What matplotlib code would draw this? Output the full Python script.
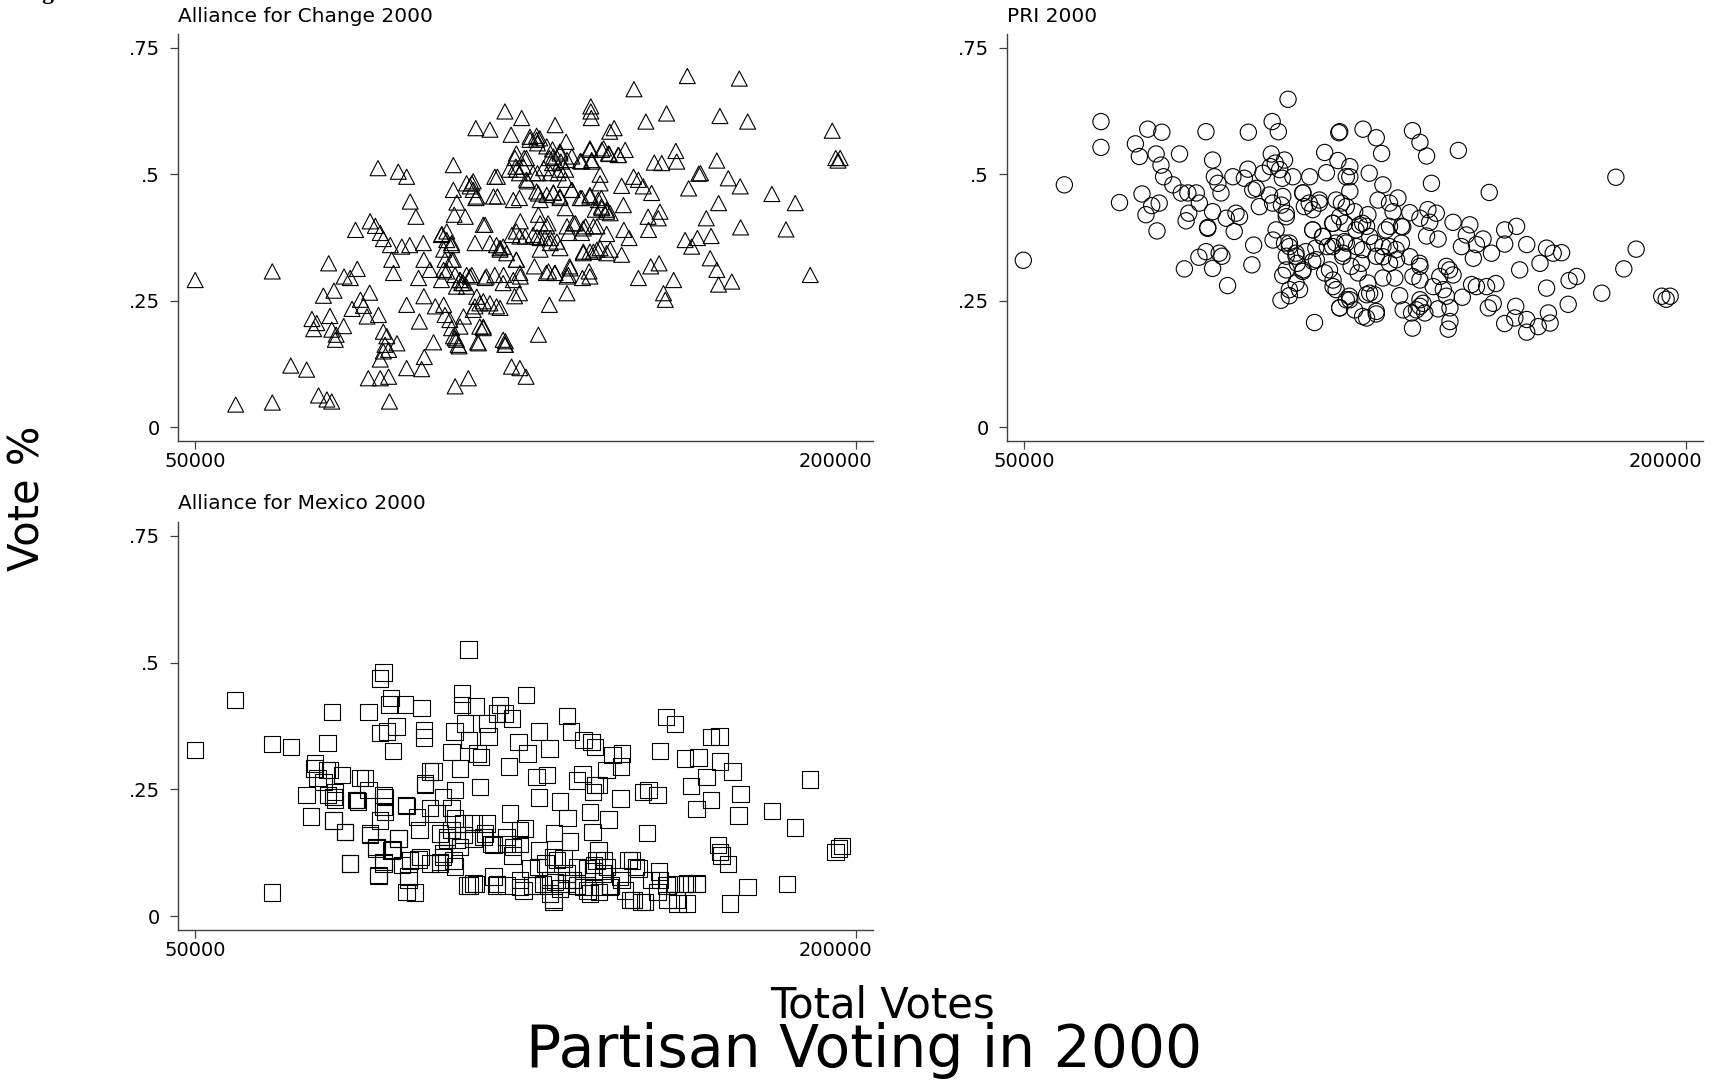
import numpy as np
import matplotlib
matplotlib.use("Agg")
import matplotlib.pyplot as plt
import matplotlib.transforms as mtransforms
from matplotlib.path import Path

plt.rcParams['font.family'] = ['DejaVu Sans']

# total votes (thousands), vote share
afc_pts = [
    (50.0, .291), (67.5, .308), (59.2, .045), (67.5, .049), (71.7, .122), (75.3, .114), (78.0, .063), (79.9, .055),
    (81.0, .051), (80.3, .324), (79.1, .26), (81.5, .27), (76.5, .214), (77.6, .206), (76.9, .194), (80.6, .22),
    (81.0, .193), (82.0, .183), (83.7, .20), (81.8, .173), (85.6, .234), (87.5, .252), (88.2, .24), (89.0, .219),
    (89.6, .266), (83.8, .298), (85.2, .295), (86.8, .313), (86.4, .39), (89.7, .407), (90.9, .398), (92.0, .384),
    (92.7, .372), (94.3, .36), (91.5, .512), (96.1, .505), (98.0, .495), (98.8, .446), (100.1, .416), (91.6, .222),
    (92.7, .189), (93.5, .18), (93.1, .163), (92.7, .15), (92.0, .134), (95.8, .166), (93.9, .153), (89.3, .097),
    (92.0, .097), (93.9, .10), (94.1, .051), (94.6, .331), (95.0, .305), (96.9, .357), (98.7, .36), (101.8, .364),
    (101.9, .331), (100.7, .295), (103.3, .311), (98.0, .242), (101.9, .259), (100.9, .209), (98.0, .117), (101.4, .115),
    (102.0, .139), (104.1, .168), (104.5, .239), (106.4, .242), (106.7, .222), (106.0, .382), (107.1, .387), (108.2, .364),
    (106.4, .351), (106.4, .311), (108.2, .331), (109.0, .301), (110.1, .291), (110.5, .285), (111.6, .301), (112.8, .301),
    (107.8, .212), (108.2, .196), (109.0, .176), (109.9, .16), (110.9, .219), (109.0, .081), (112.0, .097), (108.6, .518),
    (109.4, .444), (108.8, .42), (111.3, .416), (112.8, .482), (113.5, .364), (113.5, .239), (114.1, .168), (112.4, .476),
    (113.7, .453), (113.7, .591), (116.9, .588), (115.4, .40), (115.8, .295), (115.4, .249), (115.4, .199), (118.6, .495),
    (118.6, .456),
    (120.3, .624), (124.1, .611), (121.7, .578), (131.7, .597), (139.8, .634), (139.8, .624), (139.9, .611), (149.6, .668),
    (161.7, .694), (173.5, .689), (152.3, .604), (157.0, .62), (169.1, .615), (175.4, .604), (194.6, .586), (195.4, .532),
    (196.4, .532), (195.9, .527), (144.1, .584), (145.1, .591), (126.0, .568), (127.5, .576), (127.7, .561), (134.2, .564),
    (122.9, .541), (124.7, .532), (131.1, .549), (132.8, .541), (139.6, .551), (142.7, .551), (144.0, .540), (146.0, .538),
    (147.6, .548), (159.1, .546), (154.2, .523), (155.9, .522), (159.3, .525), (168.4, .527), (121.3, .509), (122.8, .515),
    (123.6, .502), (125.4, .486), (127.7, .502), (130.4, .532), (131.1, .522), (133.0, .525), (134.1, .509), (132.4, .502),
    (137.7, .525), (140.0, .525), (141.9, .499), (141.9, .482), (149.5, .495), (150.6, .489), (151.7, .476), (153.6, .463),
    (146.8, .477), (164.3, .501), (164.7, .502), (171.0, .492), (173.7, .476), (162.0, .472), (180.9, .461), (186.2, .443),
    (123.6, .453), (127.9, .462), (128.3, .449), (131.3, .464), (132.8, .456), (135.5, .469), (137.4, .453), (139.6, .456),
    (142.2, .453), (134.0, .433), (142.2, .436), (143.4, .43), (147.2, .439), (168.8, .443), (155.5, .426), (152.8, .416),
    (155.1, .413), (166.0, .413), (127.9, .42), (130.1, .403), (123.8, .407), (136.3, .403), (138.6, .397), (141.2, .397),
    (147.3, .39), (152.9, .39), (173.8, .395), (184.1, .391), (121.9, .38), (124.9, .377), (127.6, .376), (130.6, .374),
    (134.8, .384), (137.7, .384), (143.4, .382), (148.5, .374), (161.2, .37), (164.0, .374), (167.1, .378), (119.2, .351),
    (128.3, .351), (132.8, .354), (138.1, .347), (140.4, .347), (141.9, .354), (144.2, .351), (146.8, .341), (162.7, .357),
    (166.9, .334), (122.9, .331), (127.0, .318), (129.7, .305), (131.6, .305), (135.0, .318), (134.7, .301), (139.4, .308),
    (137.9, .295), (123.8, .298), (120.0, .301), (153.4, .318), (155.3, .324), (158.6, .291), (150.6, .295), (168.4, .311),
    (168.8, .282), (171.8, .288), (189.6, .301), (123.6, .265), (122.5, .259), (134.4, .265), (130.4, .242), (156.3, .265),
    (156.7, .252), (119.2, .236), (127.9, .183), (120.4, .17), (120.4, .163), (121.8, .12), (123.7, .117), (125.1, .10),
    (107.1, .37), (105.9, .38), (108.2, .36), (106.7, .331), (108.6, .331), (110.1, .291), (110.9, .285), (109.3, .278),
    (111.6, .278), (107.1, .308), (105.9, .291), (115.8, .40), (116.9, .364), (118.4, .36), (119.9, .357), (120.7, .344),
    (119.2, .354), (122.9, .387), (123.7, .377), (126.7, .38), (128.3, .374), (122.9, .331), (123.7, .305), (122.2, .291),
    (119.9, .285), (118.0, .301), (116.1, .298), (112.4, .298), (113.9, .258), (114.6, .245), (113.1, .232), (116.9, .245),
    (118.4, .239), (110.1, .199), (108.6, .18), (109.3, .173), (109.7, .163), (114.6, .199), (115.4, .196), (114.3, .166),
    (119.9, .173), (120.3, .163), (108.6, .469), (113.1, .486), (113.9, .456), (118.0, .495), (117.7, .456), (122.2, .449),
    (122.6, .532), (124.5, .515), (125.2, .489), (126.7, .502), (123.0, .509), (127.5, .466), (127.5, .568), (126.0, .574),
    (128.2, .571), (125.2, .532), (111.6, .482), (113.1, .469),
    (129.8, .555), (131.3, .535), (132.8, .545), (134.4, .528), (135.5, .535), (129.1, .512), (130.6, .502), (132.8, .509),
    (134.0, .489), (137.4, .526), (139.6, .548), (140.0, .528), (142.3, .548), (143.8, .541), (146.1, .538), (129.8, .459),
    (131.3, .463), (132.8, .453), (135.5, .469), (137.8, .453), (139.6, .459), (141.5, .449), (142.3, .433), (140.8, .43),
    (143.4, .426), (144.2, .423), (128.3, .403), (129.8, .397), (134.4, .397), (135.9, .403), (138.1, .393), (140.4, .397),
    (129.4, .374), (130.6, .364), (132.1, .367), (138.1, .344), (139.6, .347), (141.2, .351), (143.4, .344), (130.2, .308),
    (131.7, .305), (135.1, .314), (139.6, .298), (134.4, .298),
]

pri_pts = [
    (49.8, .33), (59.1, .479), (67.4, .604), (67.4, .553), (71.6, .444), (76.7, .461), (75.2, .56), (76.1, .535),
    (78.0, .589), (81.2, .583), (79.9, .54), (81.0, .518), (81.6, .495), (77.6, .42), (78.9, .438), (80.6, .443),
    (80.1, .388), (83.7, .479), (85.2, .54), (85.6, .463), (87.1, .463), (89.0, .463), (89.7, .443), (87.3, .423),
    (86.7, .408), (91.2, .584), (92.7, .528), (93.1, .495), (93.9, .482), (94.6, .463), (92.7, .426), (91.6, .393),
    (91.6, .395), (95.8, .413), (98.0, .423), (98.8, .416), (97.6, .387), (97.3, .495), (100.7, .51), (100.8, .583),
    (101.8, .469), (103.3, .436), (104.1, .502), (105.8, .515), (106.0, .54), (106.2, .604), (107.6, .584), (105.6, .459),
    (106.9, .522), (107.9, .509), (109.0, .528), (109.8, .648), (108.5, .492), (108.3, .439), (109.4, .423), (110.9, .495),
    (113.2, .463), (114.7, .495), (113.5, .436), (115.4, .43), (116.9, .443), (115.4, .39), (118.5, .503), (118.1, .543),
    (121.1, .527), (121.3, .582), (123.0, .495), (106.4, .37), (109.0, .364), (110.1, .357), (111.6, .344), (109.4, .338),
    (111.9, .324), (113.8, .347), (116.1, .354), (117.6, .377), (118.7, .357), (120.6, .364), (122.2, .344), (120.0, .403),
    (121.5, .416), (123.0, .436), (102.0, .36), (101.6, .321), (91.2, .347), (89.6, .336), (92.7, .314), (94.2, .344),
    (94.8, .338), (86.3, .313), (96.1, .28), (108.6, .30), (108.2, .251), (110.1, .26), (112.4, .272), (113.2, .311),
    (115.4, .328), (118.1, .305), (120.0, .291), (120.0, .278), (121.5, .236), (123.0, .252), (115.8, .207), (102.6, .472),
    (99.9, .492),
    (121.5, .584), (126.8, .589), (129.8, .572), (131.0, .541), (138.0, .586), (139.7, .563), (141.2, .536), (148.4, .547),
    (184.1, .494), (155.4, .464), (142.3, .482), (128.2, .502), (123.8, .515), (123.8, .495), (131.3, .479), (123.8, .466),
    (130.2, .449), (132.8, .443), (134.7, .453), (121.9, .443), (124.9, .426), (127.9, .42), (133.6, .426), (137.4, .424),
    (139.7, .413), (141.5, .43), (143.4, .423), (141.9, .405), (147.2, .405), (151.0, .40), (122.6, .403), (126.0, .40),
    (127.6, .397), (132.8, .397), (135.5, .397), (158.9, .39), (161.6, .397), (122.6, .367), (125.3, .357), (129.4, .364),
    (132.8, .357), (135.5, .364), (141.2, .378), (143.8, .372), (149.1, .357), (152.5, .361), (154.0, .372), (150.2, .38),
    (155.9, .344), (158.9, .362), (163.9, .361), (168.4, .354), (169.9, .344), (171.8, .345), (166.9, .324), (188.7, .352),
    (131.3, .337), (134.4, .331), (137.4, .337), (139.7, .318), (151.8, .334), (126.4, .324), (124.1, .318), (125.7, .305),
    (131.3, .295), (134.0, .295), (139.7, .291), (145.7, .318), (147.2, .301), (144.2, .298), (162.3, .311), (185.9, .313),
    (127.9, .285), (127.6, .262), (129.4, .262), (135.1, .26), (142.7, .278), (145.0, .272), (149.3, .257), (151.4, .282),
    (152.5, .278), (154.8, .278), (156.9, .284), (168.4, .275), (173.5, .29), (175.2, .298), (180.9, .265), (121.5, .236),
    (123.8, .252), (124.9, .232), (127.6, .216), (129.8, .224), (135.9, .232), (137.8, .226), (139.7, .252), (139.7, .239),
    (140.8, .226), (143.8, .234), (146.5, .236), (146.5, .209), (146.1, .194), (138.0, .196), (155.2, .236), (156.3, .245),
    (161.4, .239), (158.9, .205), (161.2, .216), (163.9, .213), (163.9, .188), (166.5, .199), (168.8, .226), (169.2, .206),
    (173.3, .243), (194.5, .259), (196.4, .259), (195.5, .253),
    (107.1, .39), (110.1, .364), (111.6, .338), (109.4, .311), (113.1, .308), (116.2, .331), (117.7, .377), (119.9, .357),
    (122.2, .338), (119.2, .311), (123.0, .364), (125.2, .39), (126.7, .403), (128.3, .377), (126.7, .351), (129.8, .338),
    (131.3, .357), (132.8, .324), (134.3, .351), (132.0, .39), (135.8, .396), (119.9, .403), (114.6, .443), (116.9, .449),
    (120.7, .449), (113.1, .463), (108.6, .456), (106.3, .443), (109.4, .416), (115.4, .39), (123.7, .259), (128.3, .265),
    (126.7, .219), (129.8, .229), (138.9, .232), (140.4, .245), (138.1, .298), (139.6, .324), (146.4, .311), (145.7, .259),
    (110.1, .272), (111.6, .285), (120.7, .272),
]

afm_pts = [
    (50.0, .328), (59.1, .426), (67.5, .339), (71.7, .334), (67.5, .047), (81.0, .403), (80.0, .342), (85.2, .104),
    (77.2, .301), (77.1, .291), (77.8, .272), (80.6, .288), (79.1, .265), (83.3, .278), (75.3, .239), (80.2, .239),
    (81.7, .245), (81.7, .229), (76.3, .197), (81.4, .189), (84.0, .166), (86.5, .229), (87.0, .226), (88.6, .272),
    (89.3, .249), (92.7, .239), (92.7, .216), (91.9, .189), (97.8, .219), (89.3, .403), (91.9, .469), (92.7, .48),
    (94.4, .43), (94.1, .417), (97.6, .417), (101.4, .41), (91.9, .361), (93.6, .364), (95.7, .374), (94.9, .326),
    (102.0, .367), (102.0, .352), (102.2, .262), (104.1, .285), (103.3, .213), (100.9, .17), (89.7, .16), (91.2, .134),
    (92.7, .107), (94.8, .132), (96.1, .153), (96.9, .101), (91.6, .079), (98.4, .071), (99.9, .047), (100.7, .112),
    (103.3, .104), (105.6, .107), (106.4, .124), (109.0, .098), (107.1, .15), (108.2, .17), (109.0, .193), (109.0, .249),
    (110.9, .16), (113.2, .153), (115.8, .163), (117.3, .143), (110.5, .439), (110.5, .416), (113.8, .413), (108.9, .364),
    (111.2, .38), (108.2, .324), (110.1, .291), (112.2, .347), (114.1, .321), (114.9, .314), (116.6, .354), (116.3, .38),
    (118.5, .40), (114.7, .255), (112.4, .061), (113.8, .064), (118.5, .064), (112.0, .526),
    (125.1, .436), (119.2, .416), (120.3, .40), (121.9, .39), (134.4, .395), (135.3, .364), (128.0, .364), (123.4, .344),
    (125.4, .321), (130.4, .331), (138.1, .347), (140.0, .344), (140.8, .334), (156.9, .393), (158.9, .379), (155.5, .326),
    (167.1, .353), (169.0, .354), (144.7, .318), (146.9, .321), (146.7, .295), (143.4, .288), (161.2, .311), (164.2, .313),
    (169.1, .305), (172.0, .285), (121.2, .295), (127.5, .275), (129.8, .278), (137.9, .28), (136.7, .268), (140.8, .259),
    (141.6, .259), (162.6, .257), (166.1, .275), (151.7, .245), (152.9, .249), (154.9, .239), (146.5, .232), (140.3, .245),
    (128.1, .234), (132.8, .226), (173.8, .241), (189.6, .27), (163.8, .211), (167.1, .229), (173.3, .199), (180.9, .208),
    (186.2, .175), (121.5, .203), (139.6, .206), (143.8, .191), (134.5, .194), (140.2, .166), (131.5, .164), (124.9, .173),
    (152.5, .164), (120.7, .143), (123.7, .143), (122.0, .12), (128.0, .13), (135.1, .147), (141.5, .13), (168.7, .14),
    (169.1, .127), (169.5, .12), (170.9, .103), (195.3, .127), (196.1, .134), (196.8, .138), (126.1, .094), (129.5, .104),
    (132.1, .111), (133.6, .114), (136.7, .097), (140.5, .101), (142.8, .111), (143.5, .097), (148.4, .111), (150.0, .097),
    (155.3, .088), (153.4, .071), (158.9, .064), (161.2, .064), (163.8, .064), (175.4, .058), (184.3, .064), (120.7, .061),
    (123.7, .058), (126.4, .061), (129.0, .064), (132.8, .055), (131.3, .028), (136.7, .061), (139.0, .051), (141.6, .048),
    (144.3, .061), (147.6, .051), (148.8, .032), (151.3, .028), (154.9, .048), (157.2, .032), (159.5, .025), (171.4, .025),
    (130.5, .071), (134.3, .071), (140.4, .088), (146.8, .071),
    (127.9, .097), (131.3, .117), (131.7, .068), (134.3, .084), (135.8, .071), (138.9, .094), (141.1, .11), (142.6, .084),
    (144.2, .058), (140.4, .058), (127.5, .061), (123.7, .071), (124.5, .051), (131.3, .032), (130.6, .045), (134.3, .065),
    (138.1, .058), (139.6, .045), (146.4, .078), (149.1, .11), (150.6, .094), (149.5, .032), (152.1, .028), (155.5, .071),
    (157.0, .061), (159.3, .032), (161.6, .025), (161.6, .065), (163.8, .065),
    (79.9, .288), (81.4, .235), (87.4, .272), (86.7, .229), (93.1, .235), (93.1, .206), (98.0, .217), (103.3, .285),
    (102.2, .259), (106.3, .235), (108.2, .213), (110.9, .183), (113.2, .183), (116.2, .183), (115.4, .156), (117.7, .14),
    (120.7, .156), (123.7, .17), (122.2, .137), (105.6, .163), (107.1, .156), (109.4, .15), (110.1, .137), (106.3, .117),
    (108.6, .11), (105.6, .104), (101.1, .117), (98.8, .11), (94.6, .13), (91.2, .137), (89.7, .163), (92.7, .104),
    (96.1, .153), (91.6, .081), (98.4, .078), (98.0, .048), (85.2, .104), (84.0, .166), (81.4, .189), (113.2, .065),
    (111.7, .061), (117.7, .078), (118.4, .061), (100.3, .196), (104.8, .203),
]

panel_titles = ["Alliance for Change 2000", "PRI 2000", "Alliance for Mexico 2000"]
y_ticks = [0, .25, .5, .75]
y_ticklabels = ["0", ".25", ".5", ".75"]
x_ticks = [50000, 200000]
x_ticklabels = ["50000", "200000"]

# Stata-like hollow triangle
tri = Path([(-1, -0.95), (1, -0.95), (0, 0.95), (-1, -0.95)],
           [Path.MOVETO, Path.LINETO, Path.LINETO, Path.CLOSEPOLY])

W, H = 1715, 1081
fig = plt.figure(figsize=(W / 100, H / 100), dpi=100)


def px_axes(left, right, top, bottom):
    return fig.add_axes([left / W, 1 - bottom / H, (right - left) / W, (bottom - top) / H])


ax1 = px_axes(178, 873, 34, 441)
ax2 = px_axes(1007, 1703, 34, 441)
ax3 = px_axes(178, 873, 522, 930)

panels = [(ax1, afc_pts, tri, 132), (ax2, pri_pts, 'o', 137), (ax3, afm_pts, 's', 140)]
for ax, pts, marker, size in panels:
    votes, share = np.array(pts).T
    ax.scatter(votes * 1000, share, marker=marker, s=size, facecolors='none',
               edgecolors='black', linewidths=0.8)
    ax.set_xlim(46100, 203850)
    ax.set_ylim(-0.027, 0.777)
    for side in ['top', 'right']:
        ax.spines[side].set_visible(False)
    for side in ['left', 'bottom']:
        ax.spines[side].set_color('#404040')
        ax.spines[side].set_linewidth(1.0)
    ax.set_xticks(x_ticks)
    ax.set_xticklabels(x_ticklabels)
    ax.set_yticks(y_ticks)
    ax.set_yticklabels(y_ticklabels)
    ax.tick_params(axis='both', length=6, width=0.9, color='#404040', labelsize=14)
    ax.tick_params(axis='y', pad=7)
    ax.tick_params(axis='x', pad=2)
    # Stata pulls the last x label back inside the axis
    shift = mtransforms.ScaledTranslation(-0.21, 0, fig.dpi_scale_trans)
    lab = ax.get_xticklabels()[-1]
    lab.set_transform(lab.get_transform() + shift)

fig.text(178 / W, 1 - 22 / H, panel_titles[0], fontsize=14.5, va='baseline')
fig.text(1007 / W, 1 - 22 / H, panel_titles[1], fontsize=14.5, va='baseline')
fig.text(178 / W, 1 - 509 / H, panel_titles[2], fontsize=14.5, va='baseline')

fig.text(28 / W, 1 - 498 / H, "Vote %", fontsize=30, rotation=90, ha='center', va='center')
fig.text(882 / W, 1 - 1018 / H, "Total Votes", fontsize=30, ha='center', va='baseline')
fig.text(864 / W, 1 - 1067 / H, "Partisan Voting in 2000", fontsize=42, ha='center', va='baseline')
# figure caption sits above the canvas; only the tail of its "g" shows
fig.text(22 / W, 1 + 1 / H, "Figure", fontsize=17, fontweight='bold',
         family='Liberation Serif', va='baseline')

fig.savefig("out.png", dpi=100)
